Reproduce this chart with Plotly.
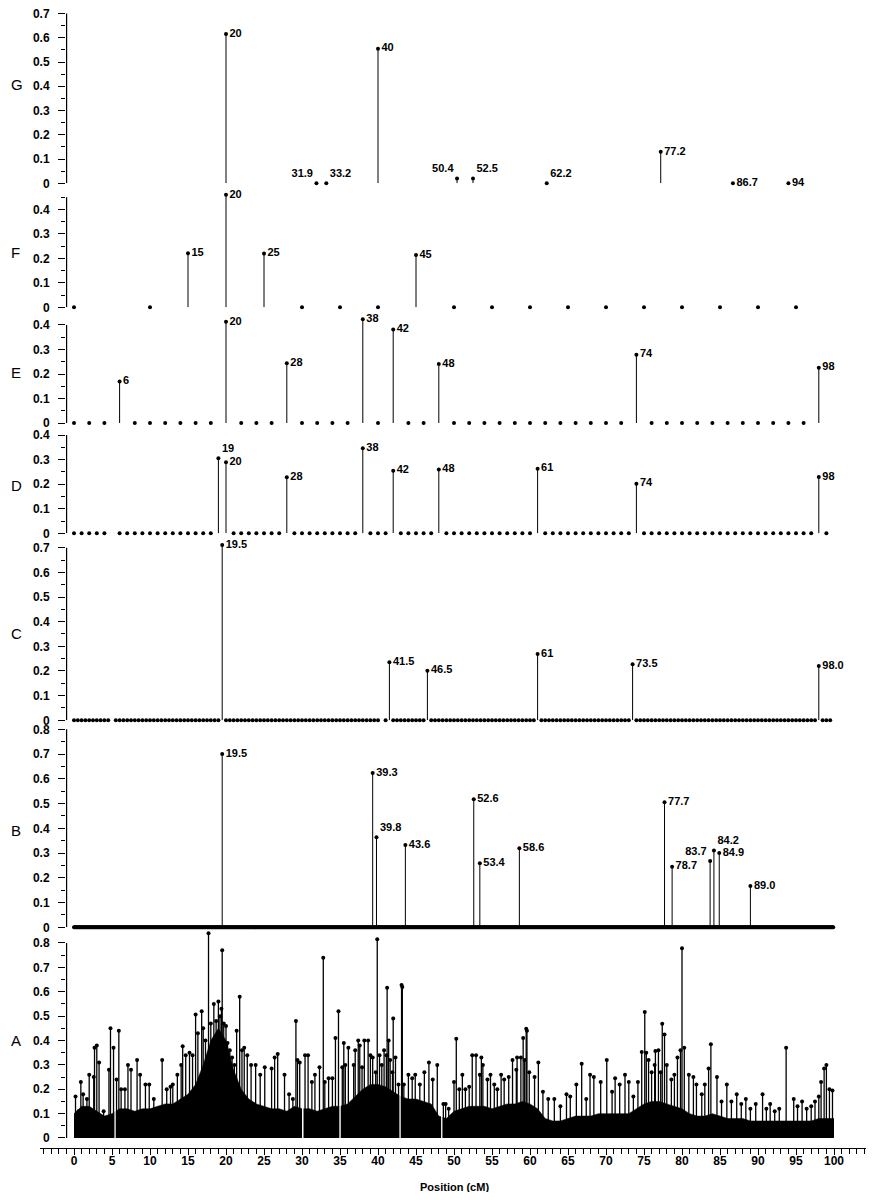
import numpy as np
import plotly.graph_objects as go

# ----------------------
# Data
# ----------------------

# Panel G
G_POS = [20, 31.9, 33.2, 40, 50.4, 52.5, 62.2, 77.2, 86.7, 94]
G_VAL = [0.615, 0.0, 0.0, 0.555, 0.02, 0.02, 0.0, 0.13, 0.0, 0.0]
G_LAB = ["20", "31.9", "33.2", "40", "50.4", "52.5", "62.2", "77.2", "86.7", "94"]

# Panel F
F_POS = [15, 20, 25, 45]
F_VAL = [0.221, 0.46, 0.22, 0.214]
F_LAB = ["15", "20", "25", "45"]
F_ZERO = [0, 10, 30, 35, 40, 50, 55, 60, 65, 70, 75, 80, 85, 90, 95]

# Panel E
E_POS = [6, 20, 28, 38, 42, 48, 74, 98]
E_VAL = [0.169, 0.413, 0.244, 0.423, 0.382, 0.241, 0.279, 0.226]
E_LAB = ["6", "20", "28", "38", "42", "48", "74", "98"]
E_ZERO = [0, 2, 4, 8, 10, 12, 14, 16, 18, 22, 24, 26, 30, 32, 34, 36, 40, 44, 46,
          50, 52, 54, 56, 58, 60, 62, 64, 66, 68, 70, 72, 76, 78, 80, 82, 84, 86,
          88, 90, 92, 94, 96]

# Panel D
D_POS = [19, 20, 28, 38, 42, 48, 61, 74, 98]
D_VAL = [0.305, 0.289, 0.228, 0.346, 0.255, 0.26, 0.263, 0.202, 0.229]
D_LAB = ["19", "20", "28", "38", "42", "48", "61", "74", "98"]
# runs of zero-valued loci (start, end), 1 cM apart
D_ZERO_RUNS = [(0, 4), (6, 18), (21, 27), (29, 37), (39, 41), (43, 47),
               (49, 60), (62, 73), (75, 97), (99, 99)]

# Panel C
C_POS = [19.5, 41.5, 46.5, 61, 73.5, 98.0]
C_VAL = [0.711, 0.235, 0.201, 0.269, 0.227, 0.22]
C_LAB = ["19.5", "41.5", "46.5", "61", "73.5", "98.0"]
# runs of zero-valued loci, 0.5 cM apart
C_ZERO_RUNS = [(0, 4.5), (5.5, 19), (20, 40), (41, 41), (42, 46), (47, 60.5),
               (61.5, 73), (74, 97.5), (98.5, 99.5)]

# Panel B
B_POS = [19.5, 39.3, 39.8, 43.6, 52.6, 53.4, 58.6, 77.7, 78.7, 83.7, 84.2, 84.9, 89.0]
B_VAL = [0.70, 0.623, 0.364, 0.333, 0.517, 0.259, 0.319, 0.505, 0.245, 0.268,
         0.31, 0.30, 0.167]
B_LAB = ["19.5", "39.3", "39.8", "43.6", "52.6", "53.4", "58.6", "77.7", "78.7",
         "83.7", "84.2", "84.9", "89.0"]
# zero-valued loci, 0.1 cM apart
B_ZERO_RUNS = [(0, 99.9)]

# Panel A: individual peaks
A_POS = [0.2, 0.6, 0.9, 1.2, 1.7, 2.0, 2.6, 2.7, 3.0, 3.3, 3.9, 4.6, 4.8, 5.2, 5.6,
         5.9, 6.2, 6.7, 7.1, 7.5, 8.3, 8.7, 9.4, 9.9, 10.5, 11.6, 12.2, 12.7, 13.0,
         13.6, 14.1, 14.3, 14.7, 15.2, 15.6, 16.0, 16.3, 16.8, 17.0, 17.3, 17.7,
         18.0, 18.4, 18.7, 19.0, 19.2, 19.4, 19.5, 19.7, 20.0, 20.2, 20.5, 20.8,
         21.1, 21.4, 21.8, 22.1, 22.4, 22.8, 23.3, 23.9, 24.5, 25.1, 26.0, 26.4,
         26.8, 27.7, 28.3, 28.8, 29.2, 29.4, 29.7, 30.4, 30.8, 31.3, 31.7, 32.3,
         32.8, 33.0, 33.5, 34.0, 34.4, 34.8, 35.3, 35.5, 35.7, 36.1, 36.8, 37.0,
         37.4, 37.6, 37.9, 38.2, 38.7, 39.0, 39.3, 39.7, 39.9, 40.2, 40.5, 40.8,
         41.1, 41.2, 41.4, 41.6, 41.9, 42.0, 42.3, 42.7, 43.1, 43.2, 43.4, 44.0,
         44.5, 44.9, 45.5, 46.1, 46.7, 47.2, 47.8, 48.6, 48.9, 49.3, 50.0, 50.3,
         50.7, 51.1, 51.5, 52.0, 52.4, 52.9, 53.4, 53.6, 53.8, 54.4, 54.8, 55.3,
         55.7, 56.2, 56.6, 57.2, 57.7, 58.2, 58.3, 58.8, 59.1, 59.3, 59.5, 59.6,
         59.9, 60.6, 61.1, 61.7, 62.4, 63.2, 64.0, 64.8, 65.3, 66.1, 66.8, 67.4,
         67.9, 68.4, 69.3, 70.1, 70.8, 71.2, 71.8, 72.5, 73.0, 73.6, 74.2, 74.7,
         75.1, 75.3, 75.6, 76.0, 76.4, 76.5, 76.9, 77.2, 77.4, 77.7, 78.0, 78.6,
         79.0, 79.4, 79.8, 80.0, 80.3, 80.9, 81.5, 81.9, 82.6, 83.0, 83.5, 83.8,
         84.6, 85.2, 85.9, 86.5, 87.2, 87.8, 88.4, 89.0, 89.7, 90.6, 91.1, 91.6,
         92.2, 92.8, 93.7, 94.7, 95.2, 95.8, 96.4, 97.0, 97.5, 98.0, 98.3, 98.7,
         99.0, 99.4, 99.8]
A_VAL = [0.17, 0.11, 0.23, 0.18, 0.16, 0.26, 0.25, 0.37, 0.38, 0.31, 0.11, 0.28, 0.45,
         0.37, 0.24, 0.44, 0.20, 0.20, 0.30, 0.28, 0.32, 0.26, 0.22, 0.22, 0.16,
         0.32, 0.20, 0.21, 0.22, 0.26, 0.30, 0.376, 0.34, 0.35, 0.34, 0.507, 0.43,
         0.52, 0.45, 0.40, 0.84, 0.47, 0.55, 0.48, 0.56, 0.50, 0.53, 0.77, 0.47,
         0.46, 0.39, 0.36, 0.33, 0.30, 0.44, 0.58, 0.36, 0.37, 0.34, 0.30, 0.30,
         0.26, 0.29, 0.285, 0.33, 0.345, 0.26, 0.18, 0.16, 0.48, 0.32, 0.31, 0.34,
         0.34, 0.23, 0.26, 0.29, 0.74, 0.23, 0.245, 0.245, 0.41, 0.52, 0.29, 0.39,
         0.30, 0.37, 0.30, 0.36, 0.40, 0.38, 0.29, 0.40, 0.40, 0.34, 0.33, 0.27,
         0.815, 0.34, 0.30, 0.36, 0.34, 0.616, 0.40, 0.32, 0.27, 0.49, 0.33, 0.22,
         0.628, 0.62, 0.22, 0.26, 0.245, 0.26, 0.22, 0.27, 0.31, 0.24, 0.30, 0.14,
         0.14, 0.12, 0.23, 0.407, 0.20, 0.26, 0.20, 0.21, 0.34, 0.34, 0.26, 0.33,
         0.30, 0.24, 0.26, 0.22, 0.20, 0.26, 0.24, 0.25, 0.32, 0.28, 0.33, 0.33,
         0.41, 0.32, 0.448, 0.44, 0.27, 0.25, 0.31, 0.19, 0.16, 0.16, 0.13, 0.18,
         0.17, 0.22, 0.305, 0.16, 0.26, 0.25, 0.23, 0.32, 0.19, 0.245, 0.22, 0.26,
         0.23, 0.17, 0.23, 0.353, 0.517, 0.35, 0.32, 0.27, 0.30, 0.357, 0.36, 0.27,
         0.469, 0.425, 0.30, 0.24, 0.26, 0.33, 0.36, 0.778, 0.37, 0.26, 0.25, 0.22,
         0.18, 0.22, 0.285, 0.385, 0.25, 0.15, 0.22, 0.15, 0.18, 0.14, 0.16, 0.12,
         0.14, 0.18, 0.12, 0.14, 0.11, 0.12, 0.37, 0.16, 0.13, 0.15, 0.12, 0.13,
         0.15, 0.17, 0.23, 0.285, 0.30, 0.20, 0.195]

# Panel A: height of the solid black mass of dense loci, per cM
A_FLOOR_POS = list(range(0, 101))
A_FLOOR = [0.10, 0.13, 0.13, 0.11, 0.09, 0.10, 0.12, 0.12, 0.11, 0.12,
           0.12, 0.13, 0.14, 0.14, 0.16, 0.18, 0.22, 0.30, 0.40, 0.45,
           0.40, 0.28, 0.20, 0.16, 0.14, 0.13, 0.12, 0.12, 0.11, 0.13,
           0.12, 0.12, 0.11, 0.12, 0.13, 0.13, 0.14, 0.17, 0.20, 0.22,
           0.22, 0.21, 0.19, 0.17, 0.16, 0.16, 0.15, 0.14, 0.09, 0.08,
           0.11, 0.12, 0.13, 0.13, 0.13, 0.12, 0.13, 0.14, 0.14, 0.15,
           0.14, 0.12, 0.08, 0.07, 0.07, 0.08, 0.09, 0.09, 0.09, 0.10,
           0.10, 0.10, 0.10, 0.10, 0.12, 0.14, 0.15, 0.15, 0.14, 0.13,
           0.12, 0.10, 0.09, 0.09, 0.10, 0.09, 0.08, 0.08, 0.08, 0.07,
           0.07, 0.07, 0.07, 0.07, 0.07, 0.07, 0.07, 0.07, 0.08, 0.08, 0.08]
# gaps (missing loci) cutting through the black mass
A_GAP_POS = [5.4, 30.1, 35.0, 42.9, 48.4]
A_GAP_TOP = [0.13, 0.16, 0.17, 0.20, 0.09]

# ----------------------
# Layout constants (pixels of the 874x1200 page)
# ----------------------

PAGE_W, PAGE_H = 874, 1200
OFF = 8                      # default body margin of the html page
FW, FH = PAGE_W - 2 * OFF, PAGE_H - 2 * OFF
X0_PX, PX_PER_CM = 74, 7.6
AXIS_LEFT_PX = 66
BOTTOM_AXIS_LEFT_PX = 40
BOTTOM_AXIS_Y_PX = 1148
FONT = "Arial, Liberation Sans, sans-serif"


def px_x(p):
    return (p - OFF) / FW


def px_y(p):
    return 1 - (p - OFF) / FH


def x_range(a_px, b_px):
    return [(a_px - X0_PX) / PX_PER_CM, (b_px - X0_PX) / PX_PER_CM]


def expand_runs(runs, step):
    out = []
    for a, b in runs:
        out += list(np.round(np.arange(a, b + step / 2, step), 2))
    return out


def stems(xs, ys):
    sx, sy = [], []
    for x, y in zip(xs, ys):
        sx += [x, x, None]
        sy += [0, y, None]
    return sx, sy


# label placement tweaks (style only)
LABEL_POS = {
    ("G", "31.9"): "top left", ("G", "33.2"): "top right",
    ("G", "50.4"): "top left", ("G", "52.5"): "top right",
    ("G", "62.2"): "top right", ("D", "19"): "top right",
    ("B", "39.8"): "top right", ("B", "83.7"): "top left",
    ("B", "84.2"): "top right",
}

# letter, axis max, axis-top px, zero px, letter y px, stems, labels, zeros
panels = [
    ("G", 0.7, 13.5, 183.3, 85, G_POS, G_VAL, G_LAB, []),
    ("F", 0.45, 197.3, 307.3, 253, F_POS, F_VAL, F_LAB, F_ZERO),
    ("E", 0.4, 325, 423, 373, E_POS, E_VAL, E_LAB, E_ZERO),
    ("D", 0.4, 435, 533.3, 485, D_POS, D_VAL, D_LAB, expand_runs(D_ZERO_RUNS, 1)),
    ("C", 0.7, 547.7, 720.3, 633, C_POS, C_VAL, C_LAB, expand_runs(C_ZERO_RUNS, 0.5)),
    ("B", 0.8, 729.3, 927.3, 830, B_POS, B_VAL, B_LAB, expand_runs(B_ZERO_RUNS, 0.1)),
    ("A", 0.8, 943, 1138, 1040, A_POS, A_VAL, None, []),
]

fig = go.Figure()
annotations = []
layout_axes = {}
x_left = x_range(AXIS_LEFT_PX, PAGE_W - OFF)
axis_x = x_left[0] + 0.6 / PX_PER_CM     # just inside the plot clip

for i, (letter, ymax, top_px, zero_px, let_px, pos, val, lab, zeros) in enumerate(panels, start=1):
    xa = "x" if i == 1 else f"x{i}"
    ya = "y" if i == 1 else f"y{i}"
    xkey = "xaxis" if i == 1 else f"xaxis{i}"
    ykey = "yaxis" if i == 1 else f"yaxis{i}"

    # the data range reaches a bit above the drawn axis so tall peaks keep their dots
    px_per_unit = (zero_px - top_px) / ymax
    rtop = max(ymax + 0.003, max(val) + 0.006)
    rtop_px = zero_px - rtop * px_per_unit

    # vertical axis line, only up to the axis max
    fig.add_trace(go.Scatter(
        x=[axis_x, axis_x], y=[0, ymax], mode="lines",
        line=dict(color="black", width=1.2), xaxis=xa, yaxis=ya,
        hoverinfo="skip", showlegend=False, cliponaxis=False,
    ))

    if letter == "A":
        # dense low loci drawn as a solid black mass
        fig.add_trace(go.Scatter(
            x=A_FLOOR_POS, y=A_FLOOR, mode="lines", fill="tozeroy",
            fillcolor="black", line=dict(color="black", width=0.5),
            xaxis=xa, yaxis=ya, hoverinfo="skip", showlegend=False,
        ))
        gx, gy = stems(A_GAP_POS, A_GAP_TOP)
        fig.add_trace(go.Scatter(
            x=gx, y=gy, mode="lines", line=dict(color="white", width=1.5),
            xaxis=xa, yaxis=ya, hoverinfo="skip", showlegend=False,
        ))

    sx, sy = stems(pos, val)
    fig.add_trace(go.Scatter(
        x=sx, y=sy, mode="lines",
        line=dict(color="black", width=1.3 if letter == "A" else 1),
        xaxis=xa, yaxis=ya, hoverinfo="skip", showlegend=False, cliponaxis=False,
    ))

    if zeros:
        fig.add_trace(go.Scatter(
            x=zeros, y=[0] * len(zeros), mode="markers",
            marker=dict(color="black", size=4),
            xaxis=xa, yaxis=ya, showlegend=False, cliponaxis=False,
        ))

    if lab is not None:
        tpos = [LABEL_POS.get((letter, t), "middle right") for t in lab]
        fig.add_trace(go.Scatter(
            x=pos, y=val, mode="markers+text", text=lab, textposition=tpos,
            marker=dict(color="black", size=4),
            textfont=dict(family=FONT, size=11, color="black", weight="bold"),
            xaxis=xa, yaxis=ya, showlegend=False, cliponaxis=False,
        ))
    else:
        fig.add_trace(go.Scatter(
            x=pos, y=val, mode="markers", marker=dict(color="black", size=4),
            xaxis=xa, yaxis=ya, showlegend=False, cliponaxis=False,
        ))

    layout_axes[xkey] = dict(
        domain=[px_x(AXIS_LEFT_PX), 1], range=x_left,
        visible=False, anchor=ya, automargin=False,
    )
    layout_axes[ykey] = dict(
        domain=[px_y(zero_px), px_y(rtop_px)], range=[0, rtop], anchor=xa,
        showline=False, automargin=False, ticklabeloverflow="allow",
        ticks="outside", ticklen=7, tickwidth=1, tickcolor="black",
        tick0=0, dtick=0.1, ticklabelstandoff=6,
        minor=dict(dtick=0.05, ticks="outside", ticklen=4, tickcolor="black"),
        showgrid=False, zeroline=False,
        tickfont=dict(family=FONT, size=12, color="black", weight="bold"),
    )
    annotations.append(dict(
        x=px_x(OFF + 1), y=px_y(let_px), xref="paper", yref="paper", text=letter,
        showarrow=False, xanchor="left", yanchor="middle",
        font=dict(family=FONT, size=15, color="black"),
    ))

# ----------------------
# Shared bottom position axis
# ----------------------

fig.add_trace(go.Scatter(x=[0], y=[0], mode="markers", marker=dict(opacity=0),
                         xaxis="x8", yaxis="y8", hoverinfo="skip", showlegend=False))
layout_axes["xaxis8"] = dict(
    domain=[px_x(BOTTOM_AXIS_LEFT_PX), 1],
    range=x_range(BOTTOM_AXIS_LEFT_PX, PAGE_W - OFF),
    anchor="y8", showline=True, linecolor="black", linewidth=1, automargin=False,
    ticks="outside", ticklen=6, tickwidth=1, tickcolor="black",
    tick0=0, dtick=5, ticklabelstandoff=-4,
    minor=dict(dtick=1, ticks="outside", ticklen=5, tickcolor="black"),
    showgrid=False, zeroline=False,
    tickfont=dict(family=FONT, size=12, color="black", weight="bold"),
)
layout_axes["yaxis8"] = dict(
    domain=[px_y(BOTTOM_AXIS_Y_PX), px_y(BOTTOM_AXIS_Y_PX - 5)],
    visible=False, anchor="x8", automargin=False,
)
annotations.append(dict(
    x=px_x(455), y=px_y(1187), xref="paper", yref="paper", text="Position (cM)",
    showarrow=False, xanchor="center", yanchor="middle",
    font=dict(family=FONT, size=11, color="black", weight="bold"),
))

fig.update_layout(
    width=FW, height=FH,
    margin=dict(l=0, r=0, t=0, b=0, autoexpand=False),
    paper_bgcolor="white", plot_bgcolor="white",
    annotations=annotations,
    **layout_axes,
)

fig.write_html("out.html")
